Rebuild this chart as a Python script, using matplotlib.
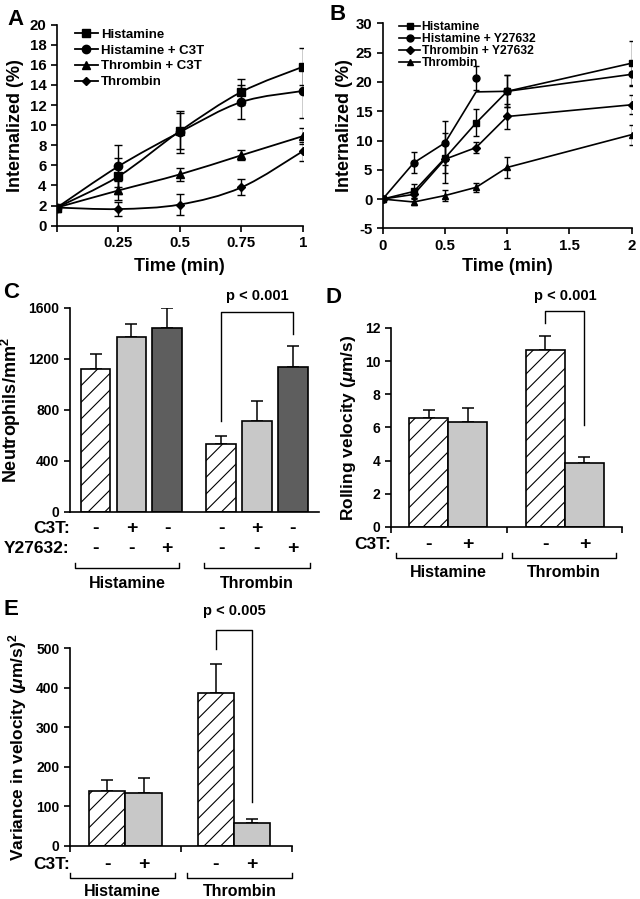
import numpy as np
import matplotlib.pyplot as plt
from matplotlib.path import Path
from matplotlib.patches import PathPatch

plt.rcParams['font.family'] = ['Liberation Sans', 'DejaVu Sans']
plt.rcParams['font.weight'] = 'bold'
plt.rcParams['axes.labelweight'] = 'bold'
plt.rcParams['axes.unicode_minus'] = False
plt.rcParams['mathtext.fontset'] = 'custom'
plt.rcParams['mathtext.rm'] = 'Liberation Sans:bold'
plt.rcParams['mathtext.it'] = 'Liberation Sans:italic:bold'
plt.rcParams['mathtext.bf'] = 'Liberation Sans:bold'
plt.rcParams['hatch.linewidth'] = 0.8
plt.rcParams['axes.linewidth'] = 1.2

# Panel A: internalization (smoothed curves)
a_time = [0, 0.25, 0.5, 0.75, 1]
a_hist = [1.8, 4.9, 9.4, 13.3, 15.8]
a_hist_err = [0, 1.8, 1.8, 1.3, 1.85]
a_hist_c3t = [1.8, 5.9, 9.3, 12.3, 13.4]
a_hist_c3t_err = [0, 2.1, 2.1, 1.7, 2.7]
a_thr_c3t = [1.8, 3.5, 5.1, 7.0, 8.9]
a_thr_c3t_err = [0, 0.9, 0.65, 0.5, 0.8]
a_thr = [1.8, 1.65, 2.1, 3.8, 7.4]
a_thr_err = [0, 0.7, 1.0, 0.8, 0.95]

# Panel B
b_time = [0, 0.25, 0.5, 0.75, 1, 2]
b_hist = [0, 1.3, 7.0, 13.0, 18.4, 23.2]
b_hist_err = [0, 1.2, 4.2, 2.3, 2.7, 3.8]
b_hist_y_line = [0, 6.2, 9.6, 18.3, 18.4, 21.3]
b_hist_y_pts = [0, 6.2, 9.6, 20.7, 18.4, 21.3]
b_hist_y_err = [0, 1.8, 3.8, 2.0, 2.7, 2.0]
b_thr_y = [0, 0.8, 6.8, 8.8, 14.1, 16.1]
b_thr_y_err = [0, 0.6, 2.4, 0.95, 2.2, 1.6]
b_thr = [0, -0.5, 0.6, 2.0, 5.4, 11.0]
b_thr_err = [0, 0.5, 1.0, 0.8, 1.8, 1.7]

# Panel C
c_vals = [1120, 1375, 1445, 530, 715, 1135]
c_err = [115, 100, 155, 65, 155, 170]
c_c3t = ['-', '+', '-', '-', '+', '-']
c_y27 = ['-', '-', '+', '-', '-', '+']

# Panel D
d_vals = [6.6, 6.35, 10.7, 3.85]
d_err = [0.45, 0.8, 0.8, 0.4]
d_c3t = ['-', '+', '-', '+']

# Panel E
e_vals = [138, 135, 387, 57]
e_err = [28, 38, 73, 12]
e_c3t = ['-', '+', '-', '+']

groups = ['Histamine', 'Thrombin']

LIGHT = '#c8c8c8'
DARK = '#5e5e5e'


def smooth_path(xs, ys):
    # excel-like smoothed line through the points (cubic bezier segments)
    pts = np.column_stack([xs, ys]).astype(float)
    n = len(pts)
    verts = [pts[0]]
    codes = [Path.MOVETO]
    for i in range(n - 1):
        p0 = pts[max(i - 1, 0)]
        p1 = pts[i]
        p2 = pts[i + 1]
        p3 = pts[min(i + 2, n - 1)]
        c1 = p1 + (p2 - p0) / 6.0
        c2 = p2 - (p3 - p1) / 6.0
        verts += [c1, c2, p2]
        codes += [Path.CURVE4] * 3
    return Path(verts, codes)


def style_axes(ax, fs=10):
    ax.spines['top'].set_visible(False)
    ax.spines['right'].set_visible(False)
    ax.tick_params(direction='out', width=1.2, length=4, labelsize=fs)
    for lab in ax.get_xticklabels() + ax.get_yticklabels():
        lab.set_fontweight('bold')


fig = plt.figure(figsize=(6.4, 8.99), dpi=100)

# ---------------- A ----------------
axA = fig.add_axes([0.089, 0.749, 0.384, 0.2236])
a_series = [
    (a_hist, a_hist_err, 's', 'Histamine'),
    (a_hist_c3t, a_hist_c3t_err, 'o', 'Histamine + C3T'),
    (a_thr_c3t, a_thr_c3t_err, '^', 'Thrombin + C3T'),
    (a_thr, a_thr_err, 'D', 'Thrombin'),
]
for ys, err, mk, lab in a_series:
    axA.add_patch(PathPatch(smooth_path(a_time, ys), fill=False, lw=1.3, ec='black'))
    ms = 4.5 if mk == 'D' else 6
    axA.errorbar(a_time, ys, yerr=err, fmt='none', ecolor='black', elinewidth=1, capsize=3, capthick=1)
    axA.plot(a_time, ys, ls='none', marker=mk, ms=ms, color='black')
    axA.plot([], [], '-', marker=mk, ms=ms, color='black', lw=1.3, label=lab)
axA.set_xlim(0, 1)
axA.set_ylim(0, 20)
axA.set_yticks(np.arange(0, 21, 2))
axA.set_xticks([0, 0.25, 0.5, 0.75, 1])
axA.set_xticklabels(['', '0.25', '0.5', '0.75', '1'])
axA.set_xlabel('Time (min)', fontsize=13, labelpad=6)
axA.set_ylabel('Internalized (%)', fontsize=13, labelpad=4)
style_axes(axA, 10.8)
axA.legend(loc='upper left', bbox_to_anchor=(0.04, 1.02), frameon=False, fontsize=9.5,
           handlelength=1.75, handletextpad=0.25, labelspacing=0.27, borderaxespad=0.2)
fig.text(0.012, 0.99, 'A', fontsize=16, fontweight='bold', va='top')

# ---------------- B ----------------
axB = fig.add_axes([0.598, 0.746, 0.389, 0.228])
b_series = [
    (b_hist, b_hist, b_hist_err, 's', 'Histamine'),
    (b_hist_y_line, b_hist_y_pts, b_hist_y_err, 'o', 'Histamine + Y27632'),
    (b_thr_y, b_thr_y, b_thr_y_err, 'D', 'Thrombin + Y27632'),
    (b_thr, b_thr, b_thr_err, '^', 'Thrombin'),
]
for yl, yp, err, mk, lab in b_series:
    ms = 3.8 if mk == 'D' else 5
    axB.plot(b_time, yl, '-', color='black', lw=1.2)
    axB.errorbar(b_time, yp, yerr=err, fmt='none', ecolor='black', elinewidth=1, capsize=2.5, capthick=1)
    axB.plot(b_time, yp, ls='none', marker=mk, ms=ms, color='black')
    axB.plot([], [], '-', marker=mk, ms=ms, color='black', lw=1.2, label=lab)
axB.set_xlim(0, 2)
axB.set_ylim(-5, 30)
axB.set_yticks(np.arange(-5, 31, 5))
axB.set_xticks([0, 0.5, 1, 1.5, 2])
axB.set_xticklabels(['0', '0.5', '1', '1.5', '2'])
axB.set_xlabel('Time (min)', fontsize=13, labelpad=4)
axB.set_ylabel('Internalized (%)', fontsize=13, labelpad=2)
style_axes(axB, 10.8)
axB.legend(loc='upper left', bbox_to_anchor=(0.035, 1.045), frameon=False, fontsize=8.7,
           handlelength=1.8, handletextpad=0.1, labelspacing=0.0, borderaxespad=0.2,
           handleheight=0.6)
fig.text(0.515, 0.995, 'B', fontsize=16, fontweight='bold', va='top')


def bar_panel(ax, xs, vals, errs, fills, bw):
    for x, v, e, f in zip(xs, vals, errs, fills):
        if f == 'hatch':
            ax.bar(x, v, width=bw, color='white', edgecolor='black', hatch='//', lw=1.2, zorder=2)
        else:
            ax.bar(x, v, width=bw, color=f, edgecolor='black', lw=1.2, zorder=2)
        ax.errorbar(x, v, yerr=[[0], [e]], fmt='none', ecolor='black', elinewidth=1.1,
                    capsize=4, capthick=1.1, zorder=1)


def under_rows(ax, xs, rows, row_y, fs=12.5):
    tr = ax.get_xaxis_transform()
    for (name, signs), y in zip(rows, row_y):
        ax.text(ax.get_xlim()[0], y, name, transform=tr, ha='right', va='center',
                fontsize=fs, fontweight='bold')
        for x, s in zip(xs, signs):
            ax.text(x, y, s, transform=tr, ha='center', va='center', fontsize=fs + 1.5,
                    fontweight='bold')


def group_brackets(ax, spans, yb, yt, ylab, fs=11.5):
    tr = ax.get_xaxis_transform()
    for (x0, x1), name in zip(spans, groups):
        ax.plot([x0, x0, x1, x1], [yt, yb, yb, yt], color='black', lw=1.0,
                transform=tr, clip_on=False)
        ax.text((x0 + x1) / 2, ylab, name, transform=tr, ha='center', va='center',
                fontsize=fs, fontweight='bold')


def sig_bracket(ax, x0, x1, y0, ytop, y1, text, ytext):
    ax.plot([x0, x0, x1, x1], [y0, ytop, ytop, y1], color='black', lw=1.0, clip_on=False)
    ax.text((x0 + x1) / 2, ytext, text, ha='center', va='center', fontsize=10.5,
            fontweight='bold', clip_on=False)


# ---------------- C ----------------
axC = fig.add_axes([0.109, 0.4305, 0.39, 0.227])
c_x = [0, 1, 2, 3.5, 4.5, 5.5]
c_fill = ['hatch', LIGHT, DARK, 'hatch', LIGHT, DARK]
bar_panel(axC, c_x, c_vals, c_err, c_fill, 0.83)
axC.set_xlim(-0.72, 6.24)
axC.set_ylim(0, 1600)
axC.set_yticks([0, 400, 800, 1200, 1600])
axC.set_xticks([])
axC.set_ylabel('Neutrophils/mm$^2$', fontsize=13, labelpad=4)
style_axes(axC, 10)
under_rows(axC, c_x, [('C3T:', c_c3t), ('Y27632:', c_y27)], [-0.083, -0.181])
group_brackets(axC, [(-0.56, 2.33), (3.03, 5.97)], -0.275, -0.25, -0.35)
sig_bracket(axC, 3.5, 5.5, 710, 1566, 1396, 'p < 0.001', 1690)
fig.text(0.005, 0.686, 'C', fontsize=16, fontweight='bold', va='top')

# ---------------- D ----------------
axD = fig.add_axes([0.611, 0.4138, 0.361, 0.2214])
d_x = [0, 1, 3, 4]
d_fill = ['hatch', LIGHT, 'hatch', LIGHT]
bar_panel(axD, d_x, d_vals, d_err, d_fill, 1.0)
axD.set_xlim(-0.97, 4.97)
axD.set_ylim(0, 12)
axD.set_yticks(np.arange(0, 13, 2))
axD.set_xticks([-0.97, 2, 4.97])
axD.set_xticklabels([])
axD.set_ylabel(r'Rolling velocity ($\mu$m/s)', fontsize=12.5, labelpad=5)
style_axes(axD, 10)
under_rows(axD, d_x, [('C3T:', d_c3t)], [-0.09])
group_brackets(axD, [(-0.85, 1.87), (2.13, 4.82)], -0.156, -0.13, -0.23)
sig_bracket(axD, 3, 4, 12.3, 13.0, 6.15, 'p < 0.001', 13.9)
fig.text(0.508, 0.681, 'D', fontsize=16, fontweight='bold', va='top')

# ---------------- E ----------------
axE = fig.add_axes([0.109, 0.059, 0.347, 0.22])
e_x = [0, 1, 3, 4]
e_fill = ['hatch', LIGHT, 'hatch', LIGHT]
bar_panel(axE, e_x, e_vals, e_err, e_fill, 1.0)
axE.set_xlim(-1.04, 5.1)
axE.set_ylim(0, 500)
axE.set_yticks(np.arange(0, 501, 100))
axE.set_xticks([-1.04, 2.04, 5.1])
axE.set_xticklabels([])
axE.set_ylabel(r'Variance in velocity ($\mu$m/s)$^2$', fontsize=12.5, labelpad=5)
style_axes(axE, 10)
under_rows(axE, e_x, [('C3T:', e_c3t)], [-0.096])
group_brackets(axE, [(-1.04, 1.875), (2.2, 5.1)], -0.162, -0.136, -0.232)
sig_bracket(axE, 3, 4, 498, 546, 112, 'p < 0.005', 595)
fig.text(0.005, 0.334, 'E', fontsize=16, fontweight='bold', va='top')

fig.savefig('out.png', dpi=100)
